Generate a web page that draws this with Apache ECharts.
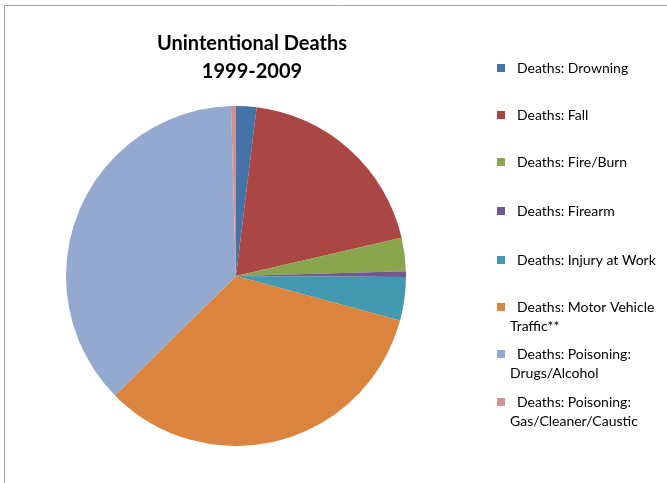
<!DOCTYPE html>
<html>
<head>
<meta charset="utf-8">
<script src="https://cdn.jsdelivr.net/npm/echarts@6/dist/echarts.min.js"></script>
<style>
html,body{margin:0;padding:0;background:#fff;}
#chart{width:667px;height:483px;}
</style>
</head>
<body>
<div id="chart"></div>
<script>
// ---- data ----
const categories = [
  'Deaths: Drowning',
  'Deaths: Fall',
  'Deaths: Fire/Burn',
  'Deaths: Firearm',
  'Deaths: Injury at Work',
  'Deaths: Motor Vehicle Traffic**',
  'Deaths: Poisoning: Drugs/Alcohol',
  'Deaths: Poisoning: Gas/Cleaner/Caustic'
];
// approximate shares (percent)
const values = [1.94, 19.44, 3.18, 0.54, 4.11, 33.39, 36.92, 0.47];
const legendLines = [
  ['Deaths: Drowning'],
  ['Deaths: Fall'],
  ['Deaths: Fire/Burn'],
  ['Deaths: Firearm'],
  ['Deaths: Injury at Work'],
  ['Deaths: Motor Vehicle', 'Traffic**'],
  ['Deaths: Poisoning:', 'Drugs/Alcohol'],
  ['Deaths: Poisoning:', 'Gas/Cleaner/Caustic']
];
const titleText = 'Unintentional Deaths\n1999-2009';

// ---- style ----
const colors = ['#4572A7', '#AA4643', '#89A54E', '#71588F', '#4198AF', '#DB843D', '#93A9CF', '#D19392'];
const FONT = 'Lato, "Open Sans", sans-serif';
const LH = 19;
const FS = 14;
const firstLineCenters = [68, 115, 162, 211, 260, 307, 354, 402];

const chart = echarts.init(document.getElementById('chart'), null, {renderer: 'canvas'});

const legends = categories.map((name, i) => {
  const lines = legendLines[i];
  let fmt, top;
  if (lines.length === 1) {
    fmt = '{a|' + lines[0] + '}';
    top = firstLineCenters[i] - LH / 2;
  } else {
    fmt = '{e| }\n{a|' + lines[0] + '}\n{b|' + lines[1] + '}';
    top = firstLineCenters[i] - LH * 1.5;
  }
  return {
    data: [name],
    orient: 'vertical',
    left: 497,
    top: top,
    padding: 0,
    itemWidth: 8,
    itemHeight: 8,
    itemGap: 0,
    icon: 'rect',
    selectedMode: false,
    formatter: () => fmt,
    textStyle: {
      fontFamily: FONT,
      fontSize: FS,
      color: '#000',
      lineHeight: LH,
      rich: {
        e: {lineHeight: LH, fontSize: FS, fontFamily: FONT},
        a: {lineHeight: LH, fontSize: FS, fontFamily: FONT, color: '#000', padding: [0, 0, 0, 7]},
        b: {lineHeight: LH, fontSize: FS, fontFamily: FONT, color: '#000', padding: [0, 0, 0, 0]}
      }
    }
  };
});

chart.setOption({
  animation: false,
  color: colors,
  title: {
    text: titleText,
    left: 252,
    textAlign: 'center',
    top: 30,
    padding: 0,
    textStyle: {
      fontFamily: FONT,
      fontWeight: 'bold',
      fontSize: 20,
      lineHeight: 28,
      color: '#000'
    }
  },
  graphic: [{
    type: 'rect',
    shape: {x: 4.5, y: 5.5, width: 700, height: 600},
    style: {fill: 'none', stroke: '#A6A6A6', lineWidth: 1},
    silent: true,
    z: -10
  }],
  legend: legends,
  series: [{
    type: 'pie',
    center: [236, 276],
    radius: 170,
    startAngle: 90,
    clockwise: true,
    label: {show: false},
    labelLine: {show: false},
    emphasis: {disabled: true},
    itemStyle: {borderWidth: 0},
    data: categories.map((c, i) => ({name: c, value: values[i]}))
  }]
});
</script>
</body>
</html>
